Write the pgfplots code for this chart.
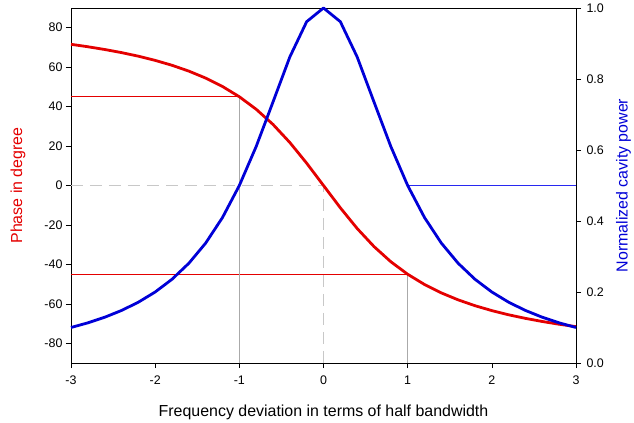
\documentclass[border=0pt]{standalone}
\usepackage{pgfplots}
\pgfplotsset{compat=1.18}
\usepackage{fontspec}
\setmainfont{Liberation Sans}
\definecolor{cred}{RGB}{228,0,0}
\definecolor{cblue}{RGB}{0,0,215}
\definecolor{cthinblue}{RGB}{40,40,240}
\definecolor{cgray}{RGB}{170,170,170}
\definecolor{cdash}{RGB}{200,200,200}
\begin{document}
\begin{tikzpicture}[x=1bp,y=1bp]
\useasboundingbox (-71bp,-60bp) rectangle (563bp,363bp);
\pgfplotsset{
  every axis/.append style={
    scale only axis, width=505bp, height=355bp,
    at={(0,0)}, anchor=south west,
    xmin=-3, xmax=3,
    tick align=outside, major tick length=5bp,
    tick style={black, line width=0.6pt},
    ticklabel style={font=\fontsize{12.5}{15}\selectfont},
    /pgf/number format/assume math mode=true,
    label style={font=\fontsize{16}{19}\selectfont},
  }
}
\begin{axis}[
  ymin=-90, ymax=90,
  ytick={-80,-60,-40,-20,0,20,40,60,80},
  xtick={-3,-2,-1,0,1,2,3},
  xtick pos=bottom, ytick pos=left,
  xticklabel style={yshift=-4bp},
  axis line style={black, line width=0.7pt},
  xlabel={Frequency deviation in terms of half bandwidth},
  ylabel={Phase in degree},
  xlabel style={at={(axis description cs:0.5,-0.138)}, anchor=center},
  ylabel style={at={(axis description cs:-0.105,0.5)}, anchor=center, text=cred},
  clip=false,
]
\addplot[cred, line width=0.7pt] coordinates {(-3,45) (-1,45)};
\addplot[cred, line width=0.7pt] coordinates {(-3,-45) (1,-45)};
\addplot[cgray, line width=0.7pt] coordinates {(-1,-90) (-1,45)};
\addplot[cgray, line width=0.7pt] coordinates {(1,-90) (1,-45)};
\addplot[cdash, line width=0.9pt, dash pattern=on 12bp off 7bp] coordinates {(-3,0) (0,0) (0,-90)};
\addplot[cthinblue, line width=0.9pt] coordinates {(1,0) (3,0)};
\addplot[cred, line width=2.8pt, line join=round] coordinates {
(-3.0,71.57) (-2.8,70.35) (-2.6,68.96) (-2.4,67.38) (-2.2,65.56) (-2.0,63.43)
(-1.8,60.95) (-1.6,57.99) (-1.4,54.46) (-1.2,50.19) (-1.0,45.00) (-0.8,38.66)
(-0.6,30.96) (-0.4,21.80) (-0.2,11.31) (0.0,0.00) (0.2,-11.31) (0.4,-21.80)
(0.6,-30.96) (0.8,-38.66) (1.0,-45.00) (1.2,-50.19) (1.4,-54.46) (1.6,-57.99)
(1.8,-60.95) (2.0,-63.43) (2.2,-65.56) (2.4,-67.38) (2.6,-68.96) (2.8,-70.35)
(3.0,-71.57)};
\end{axis}
\begin{axis}[
  ymin=0, ymax=1,
  ytick={0,0.2,0.4,0.6,0.8,1.0},
  yticklabel style={xshift=2bp, /pgf/number format/.cd, fixed, fixed zerofill, precision=1},
  axis x line=none,
  axis y line*=right,
  y axis line style={black, line width=0.7pt, -},
  ylabel={Normalized cavity power},
  ylabel style={at={(axis description cs:1.094,0.5)}, anchor=center, text=cblue},
  clip=false,
]
\addplot[cblue, line width=2.8pt, line join=round] coordinates {
(-3.0,0.1000) (-2.8,0.1131) (-2.6,0.1289) (-2.4,0.1479) (-2.2,0.1712) (-2.0,0.2000)
(-1.8,0.2358) (-1.6,0.2809) (-1.4,0.3378) (-1.2,0.4098) (-1.0,0.5000) (-0.8,0.6098)
(-0.6,0.7353) (-0.4,0.8621) (-0.2,0.9615) (0.0,1.0000) (0.2,0.9615) (0.4,0.8621)
(0.6,0.7353) (0.8,0.6098) (1.0,0.5000) (1.2,0.4098) (1.4,0.3378) (1.6,0.2809)
(1.8,0.2358) (2.0,0.2000) (2.2,0.1712) (2.4,0.1479) (2.6,0.1289) (2.8,0.1131)
(3.0,0.1000)};
\end{axis}
\end{tikzpicture}
\end{document}
